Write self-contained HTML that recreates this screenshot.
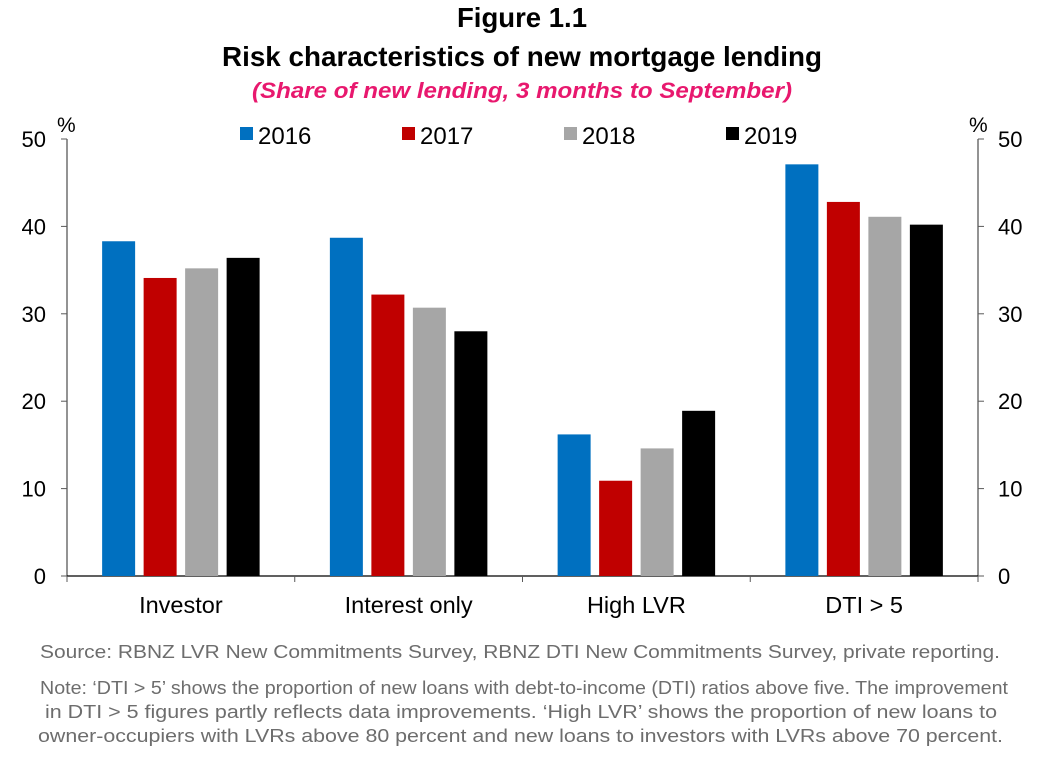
<!DOCTYPE html>
<html><head><meta charset="utf-8"><style>
body{margin:0;background:#fff;width:1051px;height:758px;overflow:hidden;font-family:"Liberation Sans",Arial,sans-serif}
</style></head><body>
<svg width="1051" height="758" xmlns="http://www.w3.org/2000/svg" font-family="Liberation Sans, Arial, sans-serif">
<text x="457" y="27" font-size="28" font-weight="bold" textLength="130" lengthAdjust="spacingAndGlyphs">Figure 1.1</text>
<text x="222" y="66" font-size="28" font-weight="bold" textLength="600" lengthAdjust="spacingAndGlyphs">Risk characteristics of new mortgage lending</text>
<text x="252" y="98" font-size="22" font-weight="bold" font-style="italic" fill="#e8186e" textLength="540" lengthAdjust="spacingAndGlyphs">(Share of new lending, 3 months to September)</text>
<g id="axes"></g>
<g id="bars"></g>
<g id="legend"></g>
<text x="40" y="658" font-size="18" fill="#6d6d6d" textLength="960" lengthAdjust="spacingAndGlyphs">Source: RBNZ LVR New Commitments Survey, RBNZ DTI New Commitments Survey, private reporting.</text>
<text x="40" y="694" font-size="18" fill="#6d6d6d" textLength="968" lengthAdjust="spacingAndGlyphs">Note: ‘DTI &gt; 5’ shows the proportion of new loans with debt-to-income (DTI) ratios above five. The improvement</text>
<text x="45" y="718" font-size="18" fill="#6d6d6d" textLength="952" lengthAdjust="spacingAndGlyphs">in DTI &gt; 5 figures partly reflects data improvements. ‘High LVR’ shows the proportion of new loans to</text>
<text x="38" y="742" font-size="18" fill="#6d6d6d" textLength="965" lengthAdjust="spacingAndGlyphs">owner-occupiers with LVRs above 80 percent and new loans to investors with LVRs above 70 percent.</text>
</svg>
<script>
const categories=["Investor","Interest only","High LVR","DTI > 5"];
const seriesNames=["2016","2017","2018","2019"];
const s2016=[38.3,38.7,16.2,47.1];
const s2017=[34.1,32.2,10.9,42.8];
const s2018=[35.2,30.7,14.6,41.1];
const s2019=[36.4,28.0,18.9,40.2];
const yTicks=[0,10,20,30,40,50];
const series=[s2016,s2017,s2018,s2019];
const colors=["#0070c0","#c00000","#a6a6a6","#000000"];
const NS="http://www.w3.org/2000/svg";
const L=67,R=978,T=139,B=576,yMax=50;
const y=v=>B-(v/yMax)*(B-T);
const cw=(R-L)/categories.length;
const xc=i=>L+cw*(i+0.5);
function mk(tag,attrs,parent,txt){const e=document.createElementNS(NS,tag);for(const k in attrs)e.setAttribute(k,attrs[k]);if(txt!=null)e.textContent=txt;parent.appendChild(e);return e;}
const ax=document.getElementById('axes');
let e;
e=mk('line',{x1:L,y1:T,x2:L,y2:B,stroke:'#595959','stroke-width':1.3},ax);


e=mk('line',{x1:R,y1:T,x2:R,y2:B,stroke:'#595959','stroke-width':1.3},ax);


e=mk('line',{x1:L,y1:B,x2:R,y2:B,stroke:'#000','stroke-width':1.3},ax);


yTicks.forEach(t=>{
  mk('line',{x1:L-6,y1:y(t),x2:L,y2:y(t),stroke:'#595959'},ax);
  mk('line',{x1:R,y1:y(t),x2:R+6,y2:y(t),stroke:'#595959'},ax);
  e=mk('text',{x:L-21,y:y(t)+8,'text-anchor':'end','font-size':22},ax,String(t));
  
  
  e=mk('text',{x:R+20,y:y(t)+8,'text-anchor':'start','font-size':22},ax,String(t));
  
  
});
e=mk('text',{x:57,y:132,'font-size':21},ax,'%');


e=mk('text',{x:969,y:132,'font-size':21},ax,'%');


for(let i=0;i<=categories.length;i++){mk('line',{x1:L+cw*i,y1:B,x2:L+cw*i,y2:B+6,stroke:'#595959'},ax);}
categories.forEach((c,i)=>{
  e=mk('text',{x:xc(i),y:613,'text-anchor':'middle','font-size':23.5},ax,c);
  
  
});
const bg=document.getElementById('bars');
const bw=33,step=41.5;
series.forEach((s,j)=>{
  s.forEach((v,i)=>{
    const x=xc(i)-78.75+j*step;
    e=mk('rect',{x:x,y:y(v),width:bw,height:B-y(v),fill:colors[j]},bg);
    
    
  });
});
const lg=document.getElementById('legend');
const lx=[240,402,564,726];
seriesNames.forEach((n,j)=>{
  const g=mk('g',{},lg);
  
  
  mk('rect',{x:lx[j],y:127,width:13,height:13,fill:colors[j]},g);
  mk('text',{x:lx[j]+18,y:144,'font-size':24},g,n);
});
</script>
</body></html>
